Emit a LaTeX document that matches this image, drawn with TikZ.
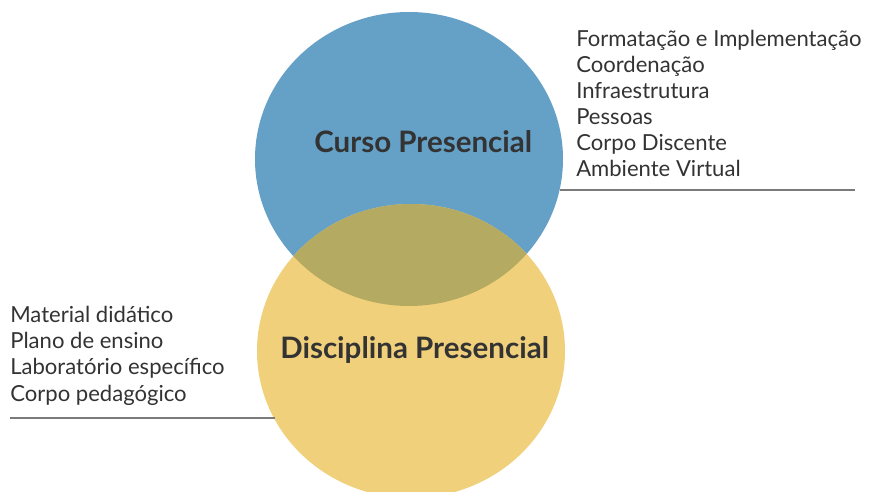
\documentclass[tikz,border=0pt]{standalone}
\usepackage{fontspec}
\setmainfont{Lato}
\usetikzlibrary{positioning}
\definecolor{cursoblue}{HTML}{65A0C6}
\definecolor{discyellow}{HTML}{F1D07C}
\definecolor{overlapolive}{HTML}{B5AA62}
\definecolor{textgray}{HTML}{333333}
\definecolor{rulegray}{HTML}{7A7A7A}

\begin{document}
\begin{tikzpicture}[x=0.025cm, y=-0.025cm,
        title/.style={font=\bfseries\fontsize{21}{25}\selectfont, text=textgray, inner sep=0pt},
        itemlist/.style={font=\fontsize{15.7}{18.5}\selectfont, text=textgray, align=left, inner sep=0pt},
        rule/.style={draw=rulegray, line width=0.9pt}]
      \useasboundingbox (0,0) rectangle (870,492);
      \clip (0,0) rectangle (870,492);

      % the two sets
      \fill[cursoblue] (409,159) ellipse [x radius=154, y radius=147];
      \fill[discyellow] (411,351) ellipse [x radius=154, y radius=147];
      \begin{scope}
        \clip (409,159) ellipse [x radius=154, y radius=147];
        \fill[overlapolive] (411,351) ellipse [x radius=154, y radius=147];
      \end{scope}

      \node[title, anchor=base west] (curso) at (314,153) {Curso Presencial};
      \node[title, anchor=base west] (disciplina) at (280,358) {Disciplina Presencial};

      % lists (base anchor sits on the last line)
      \node[itemlist, anchor=base west] (cursolist) at (576,177) {Formatação e Implementação\\Coordenação\\Infraestrutura\\Pessoas\\Corpo Discente\\Ambiente Virtual};
      \node[itemlist, anchor=base west] (disclist) at (10,401) {Material didático\\Plano de ensino\\Laboratório específico\\Corpo pedagógico};

      \coordinate (cursorule-a) at (560,190);
      \coordinate (cursorule-b) at (855,190);
      \coordinate (discrule-a) at (10,418);
      \coordinate (discrule-b) at (275,418);
      \draw[rule] (cursorule-a) -- (cursorule-b);
      \draw[rule] (discrule-a) -- (discrule-b);
    \end{tikzpicture}
\end{document}
